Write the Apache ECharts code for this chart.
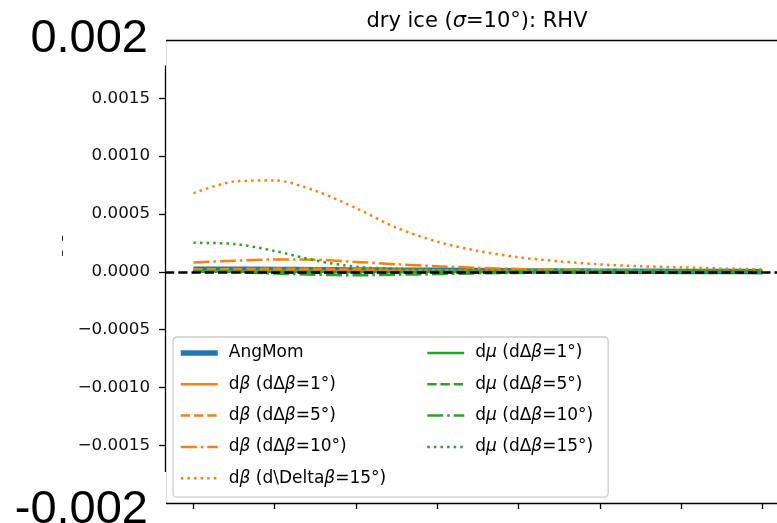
<!DOCTYPE html>
<html><head><meta charset="utf-8">
<script src="https://cdn.jsdelivr.net/npm/echarts@6/dist/echarts.min.js"></script>
<style>html,body{margin:0;padding:0;background:#fff}#c{width:777px;height:523px}</style>
</head><body><div id="c"></div>
<script>
// ---- data ----
const xs = [0, 0.5, 1, 1.5, 2, 2.5, 3, 3.5, 4, 4.5, 5, 5.5, 6, 6.5, 7];
const xTicks = [0, 1, 2, 3, 4, 5, 6, 7];
const angMom = [2.2e-5, 2.1e-5, 2.0e-5, 1.8e-5, 1.6e-5, 1.4e-5, 1.2e-5, 1.0e-5, 8e-6, 6.5e-6, 5e-6, 4e-6, 3e-6, 2e-6, 1e-6];
const dBeta1 = [4e-6, 5e-6, 5.5e-6, 5.5e-6, 5e-6, 4e-6, 3e-6, 2.5e-6, 2e-6, 1.5e-6, 1e-6, 1e-6, 8e-7, 6e-7, 5e-7];
const dBeta5 = [2.0e-5, 2.4e-5, 2.7e-5, 2.6e-5, 2.2e-5, 1.7e-5, 1.3e-5, 9e-6, 7e-6, 5e-6, 3.5e-6, 2.8e-6, 2.2e-6, 1.8e-6, 1.5e-6];
const dBeta10 = [8.0e-5, 9.5e-5, 1.06e-4, 1.04e-4, 8.5e-5, 6.5e-5, 4.8e-5, 3.4e-5, 2.4e-5, 1.7e-5, 1.2e-5, 9e-6, 7e-6, 5.5e-6, 4.5e-6];
const dBeta15 = [6.8e-4, 7.8e-4, 7.9e-4, 7.0e-4, 5.5e-4, 3.8e-4, 2.6e-4, 1.8e-4, 1.25e-4, 9.0e-5, 6.4e-5, 4.8e-5, 3.8e-5, 2.8e-5, 2.1e-5];
const dMu1 = [2e-6, 1e-6, 0, -1e-6, -1.5e-6, -1.5e-6, -1e-6, -1e-6, -5e-7, -5e-7, -3e-7, -3e-7, -2e-7, -2e-7, -1e-7];
const dMu5 = [3e-6, 0, -4e-6, -8e-6, -9e-6, -8e-6, -6e-6, -4e-6, -3e-6, -2e-6, -1.5e-6, -1e-6, -8e-7, -5e-7, -3e-7];
const dMu10 = [5e-6, -3e-6, -1.5e-5, -2.6e-5, -3.0e-5, -2.6e-5, -2.0e-5, -1.4e-5, -1.0e-5, -7e-6, -5e-6, -3.5e-6, -2.5e-6, -2e-6, -1.5e-6];
const dMu15 = [2.5e-4, 2.4e-4, 1.8e-4, 9.7e-5, 4.3e-5, 2.5e-5, 1.6e-5, 1.2e-5, 9e-6, 7e-6, 6e-6, 5e-6, 4e-6, 3.5e-6, 3e-6];
const seriesNames = ['AngMom', 'dβ (dΔβ=1°)', 'dβ (dΔβ=5°)', 'dβ (dΔβ=10°)', 'dβ (d\\Deltaβ=15°)',
  'dμ (dΔβ=1°)', 'dμ (dΔβ=5°)', 'dμ (dΔβ=10°)', 'dμ (dΔβ=15°)'];
const yMin = -0.002, yMax = 0.002, yStep = 0.0005;

// ---- styles ----
const FONT = 'DejaVu Sans';
const C_BLUE = '#1f77b4', C_OR = '#ff7f0e', C_GR = '#2ca02c';
const DASH = [9.25, 4], DASHDOT = [16, 4, 2.5, 4], DOT = [2.5, 4.1];
const styles = [
  {c: C_BLUE, w: 5.5, t: 'solid'},
  {c: C_OR, w: 2.5, t: 'solid'}, {c: C_OR, w: 2.5, t: DASH}, {c: C_OR, w: 2.5, t: DASHDOT}, {c: C_OR, w: 2.5, t: DOT},
  {c: C_GR, w: 2.5, t: 'solid'}, {c: C_GR, w: 2.5, t: DASH}, {c: C_GR, w: 2.5, t: DASHDOT}, {c: C_GR, w: 2.5, t: DOT}
];
const allData = [angMom, dBeta1, dBeta5, dBeta10, dBeta15, dMu1, dMu5, dMu10, dMu15];

const series = allData.map((ys, i) => {
  const s = {
    name: seriesNames[i], type: 'line', xAxisIndex: 0,
    data: xs.map((x, j) => [x, ys[j]]),
    showSymbol: false, symbol: 'none', smooth: 0.3,
    lineStyle: {color: styles[i].c, width: styles[i].w, type: styles[i].t, cap: 'butt'},
    itemStyle: {color: styles[i].c},
    emphasis: {disabled: true}, silent: true
  };
  if (i === 0) {
    s.markLine = {
      silent: true, symbol: ['none', 'none'], label: {show: false}, animation: false,
      lineStyle: {color: '#000', type: DASH, width: 2.5},
      emphasis: {disabled: true},
      data: [{yAxis: 0}]
    };
  }
  return s;
});

const richLegend = {
  i: {fontFamily: FONT, fontStyle: 'italic', fontSize: 17, lineHeight: 20, color: '#000'}
};
const legendFmt = n => n.replace(/([βμ])/g, '{i|$1}');
const legendCommon = {
  orient: 'vertical', itemGap: 11.3, itemWidth: 37, itemHeight: 14, selectedMode: false,
  itemStyle: {opacity: 0, borderWidth: 0},
  lineStyle: {width: 'inherit'},
  textStyle: {fontFamily: FONT, fontSize: 17, lineHeight: 20, color: '#000', padding: [0, 0, 0, 6], rich: richLegend},
  formatter: legendFmt
};

function yLabel(v) {
  const r = Math.round(v / 0.0001);
  if (r === 20) return '{bigT|0.002}{padT|}';
  if (r === -20) return '{bigB|-0.002}{padB|}';
  const s = Math.abs(v).toFixed(4);
  return '{s|' + (r < 0 ? '\u2212' : '') + s + '}';
}

const option = {
  animation: false,
  backgroundColor: '#fff',
  title: {
    text: '{t|dry ice (}{i|σ}{t|=10°): RHV}',
    left: 477, top: 10, textAlign: 'center', padding: 0,
    textStyle: {
      fontFamily: FONT, fontSize: 21, fontWeight: 'normal', color: '#000', lineHeight: 24,
      rich: {
        t: {fontFamily: FONT, fontSize: 21, color: '#000', lineHeight: 24},
        i: {fontFamily: FONT, fontSize: 21, fontStyle: 'italic', color: '#000', lineHeight: 24}
      }
    }
  },
  grid: {left: 165, right: 0, top: 40.5, bottom: 20, containLabel: false, outerBoundsMode: 'none'},
  xAxis: [{
    type: 'value', min: -0.35, max: 7.18, position: 'bottom',
    axisLine: {show: true, onZero: false, lineStyle: {color: '#000', width: 1.3}},
    axisTick: {show: true, inside: false, length: 6, customValues: xTicks, lineStyle: {color: '#000', width: 1.3}},
    axisLabel: {show: false},
    splitLine: {show: false}
  }, {
    type: 'value', min: -0.35, max: 7.18, position: 'top',
    axisLine: {show: true, onZero: false, lineStyle: {color: '#000', width: 1.3}},
    axisTick: {show: false}, axisLabel: {show: false}, splitLine: {show: false}
  }],
  yAxis: {
    type: 'value', min: yMin, max: yMax, interval: yStep,
    name: '–  –', nameLocation: 'middle', nameRotate: 90, nameGap: 96, nameMoveOverlap: false,
    nameTextStyle: {fontFamily: FONT, fontSize: 13, color: '#000', padding: [0, 0, 0, 52]},
    axisLine: {show: true, onZero: false, lineStyle: {color: '#000', width: 1.3}},
    axisTick: {show: true, inside: false, length: 6, lineStyle: {color: '#000', width: 1.3}},
    splitLine: {show: false},
    axisLabel: {
      margin: -1, align: 'right',
      formatter: yLabel,
      rich: {
        s: {fontFamily: FONT, fontSize: 16.7, color: '#111', padding: [0, 16, 0, 0]},
        bigT: {fontFamily: 'Liberation Sans', fontSize: 47, lineHeight: 44, color: '#000', verticalAlign: 'top'},
        padT: {width: 18, height: 50, backgroundColor: '#fff'},
        bigB: {fontFamily: 'Liberation Sans', fontSize: 47, lineHeight: 52, color: '#000', verticalAlign: 'bottom'},
        padB: {width: 18, height: 62, backgroundColor: '#fff'}
      }
    }
  },
  legend: [
    Object.assign({}, legendCommon, {
      data: seriesNames.slice(0, 5), left: 173, top: 337, padding: [6, 222, 9, 5],
      backgroundColor: 'rgba(255,255,255,0.8)', borderColor: '#cccccc', borderWidth: 1.3, borderRadius: 4, z: 4
    }),
    Object.assign({}, legendCommon, {
      data: seriesNames.slice(5), left: 426, top: 343, padding: 0, z: 5
    })
  ],
  series: series
};

const chart = echarts.init(document.getElementById('c'), null, {renderer: 'canvas'});
chart.setOption(option);
</script>
</body></html>
